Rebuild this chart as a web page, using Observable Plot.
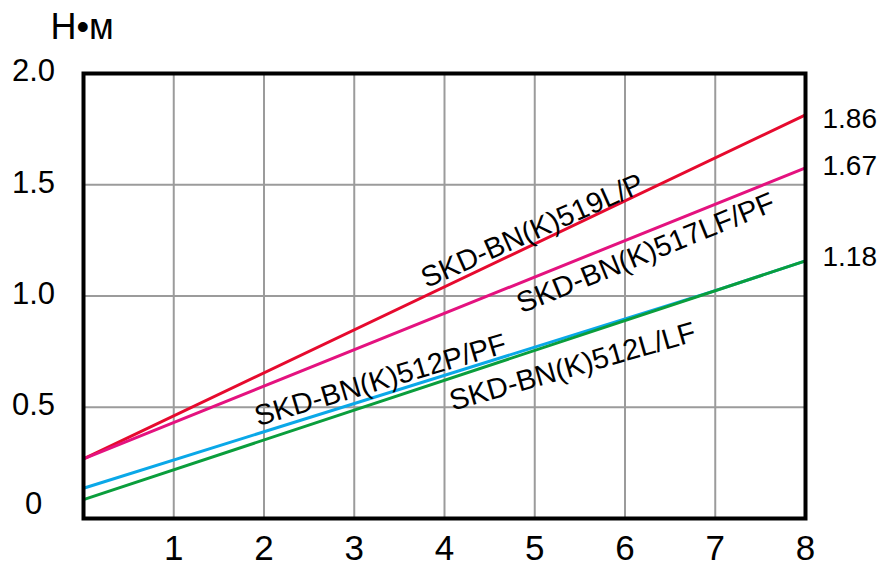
<!DOCTYPE html>
<html>
<head>
<meta charset="utf-8">
<script src="https://cdn.jsdelivr.net/npm/d3@7"></script>
<script src="https://cdn.jsdelivr.net/npm/@observablehq/plot@0.6"></script>
<style>
  html, body { margin: 0; padding: 0; background: #fff; }
  #chart svg { display: block; }
</style>
</head>
<body>
<div id="chart"></div>
<script>
// ---- data ----
const seriesNames = ["SKD-BN(K)519L/P", "SKD-BN(K)517LF/PF", "SKD-BN(K)512P/PF", "SKD-BN(K)512L/LF"];
const xRed = [0, 8],     yRed = [0.268, 1.814];
const xMagenta = [0, 8], yMagenta = [0.268, 1.576];
const xCyan = [0, 7, 8], yCyan = [0.136, 1.024, 1.158];
const xGreen = [0, 8],   yGreen = [0.085, 1.158];
const endLabels = ["1.86", "1.67", "1.18"];
const xTicks = [1, 2, 3, 4, 5, 6, 7, 8];
const yTicks = [0, 0.5, 1, 1.5, 2];
const yTickLabels = ["0", "0.5", "1.0", "1.5", "2.0"];
const unitLabel = "Н•м";

// ---- styles ----
const colors = ["#e60a2e", "#e4127f", "#0aa8e8", "#0a9e3c"];
const font = "'Liberation Sans', Arial, sans-serif";

const xs = [xRed, xMagenta, xCyan, xGreen];
const ys = [yRed, yMagenta, yCyan, yGreen];
const series = seriesNames.map((name, i) => xs[i].map((x, j) => ({name, x, y: ys[i][j]})));

function yAt(i, x) {
  const X = xs[i], Y = ys[i];
  for (let j = 0; j < X.length - 1; j++) {
    if (x >= X[j] && x <= X[j + 1]) return Y[j] + (Y[j + 1] - Y[j]) * (x - X[j]) / (X[j + 1] - X[j]);
  }
  return Y[Y.length - 1];
}

// label placement (along each line)
const labelSpots = [
  {i: 0, x: 4.975, rotate: -24, dy: -14},
  {i: 1, x: 6.23, rotate: -22, dy: 21},
  {i: 2, x: 3.29, rotate: -16.5, dy: -15},
  {i: 3, x: 5.42, rotate: -16, dy: 29}
];
const endSpots = [
  {i: 0, dy: 4},
  {i: 1, dy: -2},
  {i: 3, dy: -4}
];

const marks = [
  Plot.gridX(xTicks.filter(d => d < 8), {stroke: "#9b9b9b", strokeOpacity: 1, strokeWidth: 2}),
  Plot.gridY(yTicks.filter(d => d > 0 && d < 2), {stroke: "#9b9b9b", strokeOpacity: 1, strokeWidth: 2}),
  ...series.map((s, i) => Plot.line(s, {x: "x", y: "y", stroke: colors[i], strokeWidth: 3})),
  Plot.frame({stroke: "black", strokeWidth: 4}),
  Plot.axisX(xTicks, {tickSize: 0, tickPadding: 17, fontSize: 35, fill: "black", label: null}),
  Plot.axisY(yTicks.filter(d => d > 0), {
    tickSize: 0, tickPadding: 50, textAnchor: "middle", dy: -2, fontSize: 31, fill: "black", label: null,
    tickFormat: d => yTickLabels[yTicks.indexOf(d)]
  }),
  Plot.axisY([0], {
    tickSize: 0, tickPadding: 50, textAnchor: "middle", dy: -14, fontSize: 31, fill: "black", label: null,
    tickFormat: d => yTickLabels[yTicks.indexOf(d)]
  }),
  Plot.text([unitLabel], {
    frameAnchor: "top-left", text: d => d, textAnchor: "start", lineAnchor: "middle",
    dx: -33, dy: -46, fontSize: 36, fill: "black"
  }),
  ...labelSpots.map(l => Plot.text([l], {
    x: d => d.x, y: d => yAt(d.i, d.x), text: d => seriesNames[d.i],
    rotate: l.rotate, dy: l.dy, textAnchor: "middle", lineAnchor: "middle",
    fontSize: 29, fill: "black"
  })),
  ...endSpots.map((e, k) => Plot.text([e], {
    x: d => xs[d.i][xs[d.i].length - 1], y: d => ys[d.i][ys[d.i].length - 1],
    text: () => endLabels[k], textAnchor: "start", lineAnchor: "middle",
    dx: 17, dy: e.dy, fontSize: 28, fill: "black"
  }))
];

const chart = Plot.plot({
  width: 892,
  height: 583,
  marginLeft: 83,
  marginRight: 87,
  marginTop: 73,
  marginBottom: 65,
  style: {background: "white", color: "black", fontFamily: font},
  x: {domain: [0, 8], axis: null},
  y: {domain: [0, 2], axis: null},
  marks
});
document.getElementById("chart").appendChild(chart);
</script>
</body>
</html>
